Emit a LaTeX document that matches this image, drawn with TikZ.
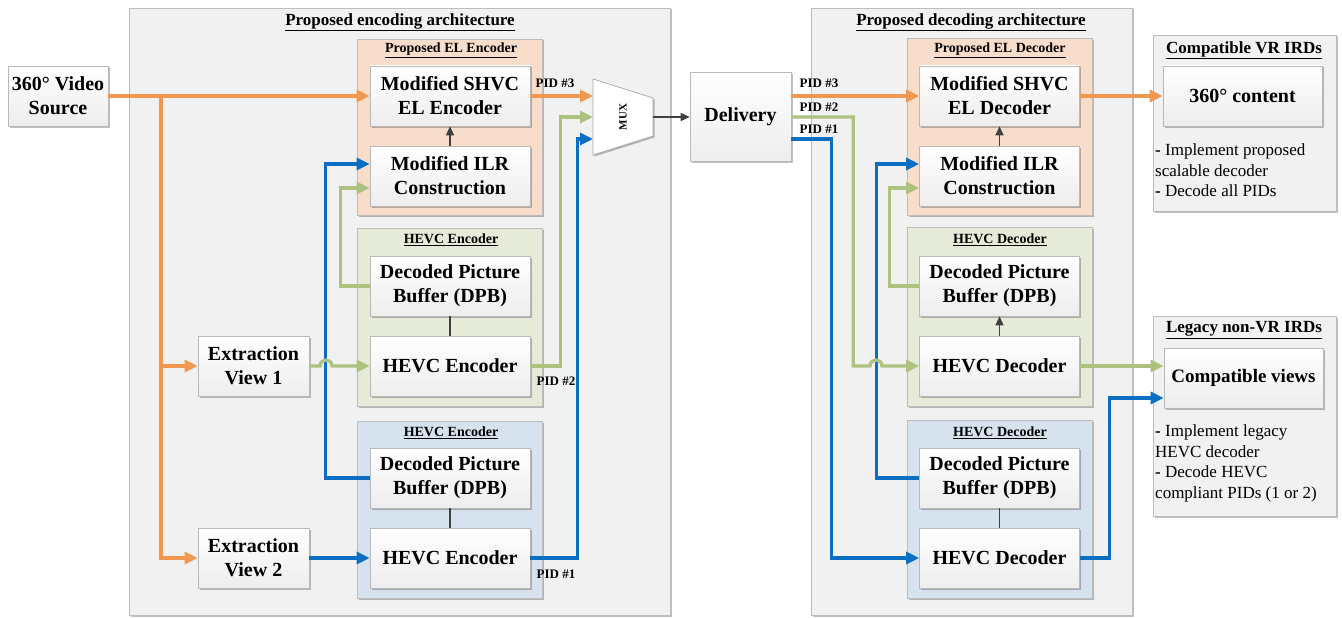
\documentclass[tikz,border=0pt]{standalone}
\usepackage{fontspec}
\setmainfont{Liberation Serif}
\usetikzlibrary{shadows,arrows.meta,calc}
\definecolor{panelgray}{HTML}{F1F1F1}
\definecolor{panelborder}{HTML}{BDBDBD}
\definecolor{orfill}{HTML}{F8DDCB}
\definecolor{grfill}{HTML}{E6EAD9}
\definecolor{blfill}{HTML}{D6E2EE}
\definecolor{orline}{HTML}{F0984F}
\definecolor{grline}{HTML}{ADC27F}
\definecolor{blline}{HTML}{0A6FC3}
\definecolor{darkline}{HTML}{404040}
\tikzset{
  shad/.style={drop shadow={shadow xshift=1.5pt,shadow yshift=-1.5pt,opacity=0.25,fill=black}},
  panel/.style={draw=panelborder,fill=panelgray,line width=0.8pt,shad,inner sep=0pt},
  subpanel/.style={draw=panelborder,line width=0.8pt,shad,inner sep=0pt,minimum width=185pt},
  box/.style={draw=gray!55,top color=white,bottom color=gray!14,line width=0.6pt,shad,
     minimum width=160pt,minimum height=60pt,align=center,inner sep=0pt,
     font=\fontsize{20}{24}\selectfont\bfseries},
  ptitle/.style={font=\fontsize{17}{20}\selectfont\bfseries,inner sep=0pt},
  stitle/.style={font=\fontsize{14}{16}\selectfont\bfseries,inner sep=0pt},
  pid/.style={font=\fontsize{13}{15}\selectfont\bfseries,inner sep=0pt},
  note/.style={font=\fontsize{17}{20.5}\selectfont,align=left,inner sep=0pt,anchor=north west},
  flow/.style={line width=3.2pt,-{Triangle[length=13pt,width=12pt]}},
  oflow/.style={flow,draw=orline,orline},
  gflow/.style={flow,draw=grline,grline},
  bflow/.style={flow,draw=blline,blline},
  dark/.style={line width=1.3pt,draw=darkline,-{Triangle[length=9pt,width=8pt]}},
  darkplain/.style={line width=1.3pt,draw=darkline}
}
\begin{document}
\begin{tikzpicture}[x=1pt,y=-1pt]
\useasboundingbox (0,0) rectangle (1342,618);

% ---------- panels ----------
\node[panel,minimum width=541pt,minimum height=607pt] (encpanel) at (399.5,311.5) {};
\node[panel,minimum width=321pt,minimum height=607pt] (decpanel) at (971.5,311.5) {};
\node[panel,minimum width=183pt,minimum height=176pt] (vrpanel) at (1244.5,123) {};
\node[panel,minimum width=183pt,minimum height=200pt] (legpanel) at (1244.5,416) {};

\node[ptitle] (enctitle) at (400,22) {\underline{Proposed encoding architecture}};
\node[ptitle] (dectitle) at (971,22) {\underline{Proposed decoding architecture}};
\node[ptitle] (vrtitle) at (1244,50) {\underline{Compatible VR IRDs}};
\node[ptitle] (legtitle) at (1244,330) {\underline{Legacy non-VR IRDs}};

% encoder sub panels
\node[subpanel,fill=orfill,minimum height=176pt] (elenc) at (449.5,127) {};
\node[subpanel,fill=grfill,minimum height=178pt] (genc) at (449.5,317) {};
\node[subpanel,fill=blfill,minimum height=177pt] (benc) at (449.5,509.5) {};
\node[stitle] (elenct) at (451,50) {\underline{Proposed EL Encoder}};
\node[stitle] (genct) at (451,240) {\underline{HEVC Encoder}};
\node[stitle] (benct) at (451,433) {\underline{HEVC Encoder}};

% decoder sub panels
\node[subpanel,fill=orfill,minimum height=177pt] (eldec) at (999.5,127) {};
\node[subpanel,fill=grfill,minimum height=179pt] (gdec) at (999.5,316.5) {};
\node[subpanel,fill=blfill,minimum height=178pt] (bdec) at (999.5,509) {};
\node[stitle] (eldect) at (1000,50) {\underline{Proposed EL Decoder}};
\node[stitle] (gdect) at (1000,240) {\underline{HEVC Decoder}};
\node[stitle] (bdect) at (1000,433) {\underline{HEVC Decoder}};

% ---------- boxes ----------
\node[box,minimum width=100pt] (src) at (58,96) {360° Video\\Source};
\node[box,minimum width=111pt] (ext1) at (253.5,366) {Extraction\\View 1};
\node[box,minimum width=111pt] (ext2) at (253.5,558) {Extraction\\View 2};

\node[box] (shvcE) at (450,96) {Modified SHVC\\EL Encoder};
\node[box] (ilrE) at (450,176) {Modified ILR\\Construction};
\node[box] (dpbE) at (450,286) {Decoded Picture\\Buffer (DPB)};
\node[box] (hevcE) at (450,366) {HEVC Encoder};
\node[box] (dpbE2) at (450,478) {Decoded Picture\\Buffer (DPB)};
\node[box] (hevcE2) at (450,558) {HEVC Encoder};

\node[box,minimum width=101pt,minimum height=89pt] (deliv) at (740.5,117) {Delivery};

\node[box] (shvcD) at (999.5,96) {Modified SHVC\\EL Decoder};
\node[box] (ilrD) at (999.5,176) {Modified ILR\\Construction};
\node[box] (dpbD) at (999.5,286) {Decoded Picture\\Buffer (DPB)};
\node[box] (hevcD) at (999.5,366) {HEVC Decoder};
\node[box] (dpbD2) at (999.5,478) {Decoded Picture\\Buffer (DPB)};
\node[box] (hevcD2) at (999.5,558) {HEVC Decoder};

\node[box,minimum width=159pt] (content) at (1242.5,96) {360° content};
\node[box,minimum width=159pt,font=\fontsize{19}{23}\selectfont\bfseries] (views) at (1243.5,378) {Compatible views};

\node[note] (vrnote) at (1155,144) {\textbf{-} Implement proposed\\scalable decoder\\\textbf{-} Decode all PIDs};
\node[note] (legnote) at (1155,425) {\textbf{-} Implement legacy\\HEVC decoder\\\textbf{-} Decode HEVC\\compliant PIDs (1 or 2)};

% ---------- MUX ----------
\filldraw[draw=gray!70,fill=white,line width=0.7pt,shad] (593,79) -- (653,98) -- (653,136) -- (593,155) -- cycle;
\node[rotate=90,font=\fontsize{11}{13}\selectfont\bfseries,inner sep=0pt] (mux) at (623,117) {MUX};
\coordinate (mux3) at (593,96);
\coordinate (mux2) at (593,117);
\coordinate (mux1) at (593,139);
\coordinate (muxout) at (653,117);

% ---------- encoder connectors ----------
\coordinate (obr) at (161,96);
\draw[oflow] (src.east) -- (shvcE.west);
\draw[oflow] (obr) |- (ext1.west);
\draw[oflow] (obr) |- (ext2.west);
\draw[oflow] (shvcE.east) -- (mux3);

\draw[bflow] (dpbE2.west) -- ++(-44,0) |- ($(ilrE.west)+(0,-12)$);
\draw[gflow] (dpbE.west) -- ++(-29,0) |- ($(ilrE.west)+(0,12)$);
\draw[gflow] (ext1.east) -- (320,366) .. controls (320,358) and (332,358) .. (332,366) -- (hevcE.west);
\draw[gflow] (hevcE.east) -- ++(30,0) |- (mux2);
\draw[bflow] (ext2.east) -- (hevcE2.west);
\draw[bflow] (hevcE2.east) -- ++(47,0) |- (mux1);

\draw[dark] (ilrE.north) -- (shvcE.south);
\draw[darkplain] (hevcE.north) -- (dpbE.south);
\draw[darkplain] (hevcE2.north) -- (dpbE2.south);
\draw[dark] (muxout) -- (deliv.west);

\node[pid] (pid3e) at (555,83) {PID \#3};
\node[pid] (pid2e) at (556,381) {PID \#2};
\node[pid] (pid1e) at (556,574) {PID \#1};

% ---------- decoder connectors ----------
\draw[oflow] ($(deliv.east)+(0,-21)$) -- (shvcD.west);
\draw[bflow] ($(deliv.east)+(0,22)$) -- ++(40,0) |- (hevcD2.west);
\draw[bflow] (dpbD2.west) -- ++(-43,0) |- ($(ilrD.west)+(0,-12)$);
\draw[gflow] (dpbD.west) -- ++(-30,0) |- ($(ilrD.west)+(0,12)$);
\draw[gflow] (deliv.east) -- ++(62,0) |- (870,366) .. controls (870,358) and (882,358) .. (882,366) -- (hevcD.west);

\draw[dark] (ilrD.north) -- (shvcD.south);
\draw[dark] (hevcD.north) -- (dpbD.south);
\draw[darkplain] (hevcD2.north) -- (dpbD2.south);

\draw[oflow] (shvcD.east) -- (content.west);
\draw[gflow] (hevcD.east) -- (hevcD.east -| views.west);
\draw[bflow] (hevcD2.east) -- ++(30,0) |- ($(views.west)+(0,20)$);

\node[pid] (pid3d) at (819,83) {PID \#3};
\node[pid] (pid2d) at (819,107) {PID \#2};
\node[pid] (pid1d) at (819,129) {PID \#1};
\end{tikzpicture}
\end{document}
